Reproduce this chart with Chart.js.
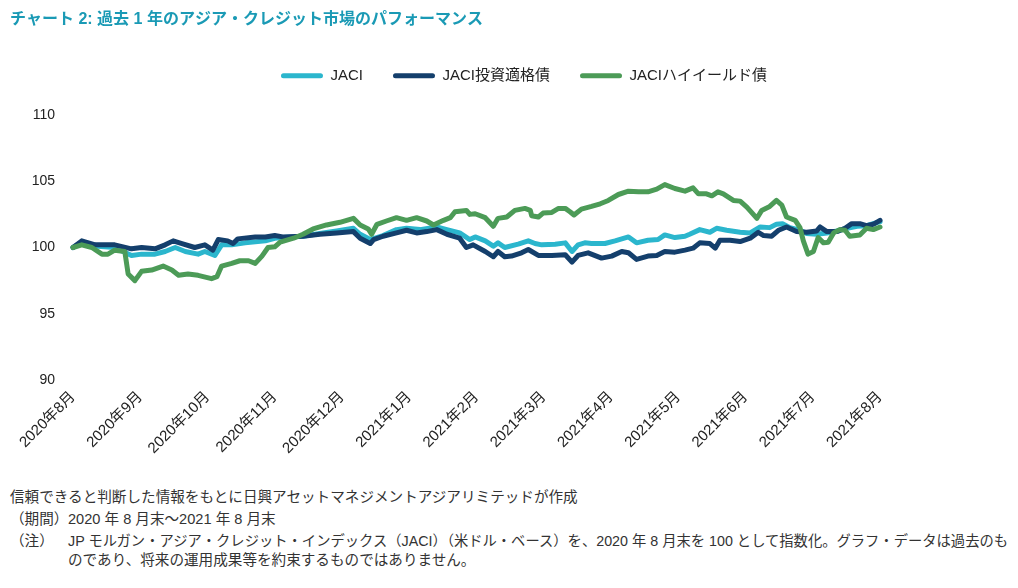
<!DOCTYPE html>
<html><head><meta charset="utf-8">
<script src="https://cdn.jsdelivr.net/npm/chart.js@4"></script>
<style>
body{margin:0;background:#fff;}
#wrap{position:relative;width:1018px;height:588px;overflow:hidden;}
canvas{position:absolute;left:0;top:0;}
.fn{position:absolute;font-family:'Liberation Sans','Noto Sans CJK JP',sans-serif;font-size:14.6px;line-height:18px;color:#333;white-space:nowrap;}
</style></head>
<body><div id="wrap">
<canvas id="c" width="1018" height="470"></canvas>
<div class="fn" style="left:10px;top:488px;">信頼できると判断した情報をもとに日興アセットマネジメントアジアリミテッドが作成</div>
<div class="fn" style="left:10px;top:510px;">（期間）</div>
<div class="fn" style="left:68px;top:510px;">2020 年 8 月末～2021 年 8 月末</div>
<div class="fn" style="left:10px;top:532px;">（注）</div>
<div class="fn" style="left:68px;top:532px;font-size:14.3px;">JP モルガン・アジア・クレジット・インデックス（JACI）（米ドル・ベース）を、2020 年 8 月末を 100 として指数化。グラフ・データは過去のも</div>
<div class="fn" style="left:68px;top:551px;">のであり、将来の運用成果等を約束するものではありません。</div>
</div>
<script>
const monthLabels = ['2020年8月','2020年9月','2020年10月','2020年11月','2020年12月','2021年1月','2021年2月','2021年3月','2021年4月','2021年5月','2021年6月','2021年7月','2021年8月'];
const seriesNames = ['JACI','JACI投資適格債','JACIハイイールド債'];

const jaciX = [0,0.13,0.37,0.62,0.87,1.02,1.22,1.37,1.52,1.67,1.86,1.96,2.11,2.21,2.36,2.56,2.86,3.00,3.12,3.42,3.67,3.92,4.17,4.27,4.42,4.61,4.81,4.96,5.16,5.41,5.56,5.75,5.90,5.98,6.13,6.25,6.32,6.42,6.62,6.77,6.87,6.97,7.17,7.32,7.42,7.51,7.61,7.71,7.91,8.06,8.26,8.38,8.55,8.70,8.80,8.95,9.10,9.17,9.32,9.47,9.57,9.72,9.92,10.07,10.22,10.36,10.46,10.55,10.66,10.81,10.91,11.06,11.21,11.36,11.51,11.66,11.80,12.0];
const jaciY = [100.0,100.4,100.1,100.0,99.4,99.5,99.5,99.7,100.0,99.7,99.5,99.7,99.4,100.2,100.2,100.35,100.5,100.7,100.75,100.85,101.05,101.25,101.45,101.0,100.6,100.9,101.35,101.45,101.35,101.55,101.35,101.1,100.6,100.8,100.5,100.1,100.35,100.0,100.25,100.5,100.3,100.2,100.25,100.35,99.7,100.2,100.35,100.3,100.3,100.5,100.8,100.35,100.55,100.6,100.95,100.75,100.85,101.0,101.35,101.15,101.45,101.3,101.15,101.1,101.55,101.5,101.75,101.8,101.5,101.3,101.05,101.0,101.1,101.25,101.45,101.6,101.65,101.95];

const igX = [0,0.13,0.33,0.62,0.87,1.02,1.22,1.37,1.49,1.62,1.81,1.96,2.08,2.16,2.30,2.38,2.45,2.71,2.86,3.00,3.12,3.42,3.67,3.92,4.17,4.27,4.42,4.47,4.61,4.81,4.96,5.11,5.26,5.41,5.56,5.75,5.85,5.95,6.13,6.25,6.32,6.42,6.52,6.67,6.77,6.92,7.12,7.32,7.42,7.51,7.66,7.86,8.01,8.16,8.26,8.38,8.55,8.68,8.80,8.95,9.10,9.22,9.32,9.47,9.55,9.62,9.77,9.92,10.07,10.19,10.27,10.39,10.49,10.61,10.76,10.91,11.06,11.11,11.21,11.36,11.48,11.58,11.70,11.80,11.90,12.0];
const igY = [100.0,100.5,100.2,100.2,99.9,100.0,99.9,100.2,100.5,100.3,100.0,100.2,99.8,100.6,100.5,100.3,100.65,100.8,100.8,100.9,100.8,100.85,101.0,101.1,101.2,100.7,100.3,100.6,100.85,101.1,101.3,101.1,101.2,101.35,101.0,100.7,100.0,100.2,99.7,99.3,99.7,99.3,99.35,99.6,99.85,99.4,99.4,99.45,98.9,99.4,99.6,99.2,99.35,99.7,99.6,99.1,99.35,99.4,99.7,99.65,99.8,99.95,100.35,100.3,99.95,100.55,100.55,100.45,100.7,101.15,100.9,100.85,101.3,101.55,101.2,101.15,101.25,101.55,101.2,101.2,101.45,101.8,101.8,101.65,101.75,102.05];

const hyX = [0,0.13,0.28,0.43,0.52,0.62,0.77,0.82,0.92,1.02,1.17,1.34,1.47,1.57,1.71,1.86,2.06,2.14,2.21,2.36,2.48,2.61,2.71,2.81,2.90,3.00,3.08,3.28,3.42,3.57,3.77,3.97,4.17,4.27,4.39,4.44,4.52,4.66,4.81,4.96,5.11,5.26,5.36,5.51,5.61,5.68,5.85,5.90,5.98,6.13,6.25,6.32,6.45,6.57,6.72,6.80,6.82,6.92,6.99,7.12,7.22,7.32,7.39,7.45,7.56,7.71,7.84,7.96,8.11,8.26,8.41,8.55,8.68,8.80,8.95,9.10,9.22,9.30,9.42,9.50,9.59,9.67,9.82,9.92,10.02,10.17,10.24,10.36,10.46,10.54,10.61,10.74,10.81,10.86,10.93,11.01,11.08,11.16,11.23,11.31,11.40,11.48,11.55,11.70,11.80,11.90,12.0];
const hyY = [100.0,100.2,100.0,99.5,99.5,99.8,99.7,98.0,97.5,98.2,98.3,98.6,98.3,97.9,98.0,97.9,97.65,97.8,98.6,98.8,99.0,99.0,98.8,99.35,100.0,100.05,100.4,100.7,101.0,101.4,101.7,101.9,102.2,101.7,101.4,101.0,101.75,102.0,102.25,102.05,102.25,102.0,101.7,102.05,102.25,102.7,102.8,102.5,102.55,102.25,101.6,102.2,102.3,102.8,102.95,102.8,102.4,102.3,102.6,102.65,102.95,102.95,102.7,102.45,102.9,103.1,103.3,103.55,104.0,104.25,104.2,104.2,104.4,104.75,104.45,104.25,104.5,104.05,104.05,103.9,104.2,104.05,103.55,103.5,103.05,102.2,102.8,103.1,103.55,103.2,102.3,102.05,101.5,100.5,99.5,99.7,100.75,100.35,100.4,101.1,101.35,101.3,100.85,100.95,101.45,101.35,101.55];

const colors = ['#2BB6CD','#143F6C','#4C9B57'];
const FONT = "'Liberation Sans','Noto Sans CJK JP',sans-serif";
const toPts = (xs, ys) => xs.map((x, i) => ({x: x, y: ys[i]}));

const TITLE_BOTTOM = 16*1.2 + 10 + 9;
const CHART_TOP = 115, CHART_BOTTOM = 380, CHART_LEFT = 73, CHART_RIGHT = 880;
const LEGEND_SHIFT = 79;

const layoutFix = {
  id: 'layoutFix',
  beforeLayout(chart) {
    const lg = chart.legend;
    if (lg && !lg._patched) {
      const f = lg.fit;
      lg.fit = function () { f.call(this); this.height = CHART_TOP - TITLE_BOTTOM; };
      lg._patched = true;
    }
  },
  afterLayout(chart) {
    const lg = chart.legend;
    if (lg) { lg.left += LEGEND_SHIFT; lg.right += LEGEND_SHIFT; }
  }
};

function ds(i, xs, ys, order) {
  return {
    label: seriesNames[i], data: toPts(xs, ys),
    borderColor: colors[i], backgroundColor: colors[i],
    borderWidth: 5, pointRadius: 0, pointHoverRadius: 0, tension: 0,
    borderJoinStyle: 'round', borderCapStyle: 'round', clip: false, order: order
  };
}

new Chart(document.getElementById('c'), {
  type: 'line',
  data: { datasets: [ds(0, jaciX, jaciY, 3), ds(1, igX, igY, 2), ds(2, hyX, hyY, 1)] },
  options: {
    responsive: false, animation: false,
    layout: { padding: { left: 10, right: 1018 - CHART_RIGHT, top: 0, bottom: 0 } },
    plugins: {
      title: { display: true, text: 'チャート 2: 過去 1 年のアジア・クレジット市場のパフォーマンス', align: 'start',
        color: '#1A9AB5', font: { family: FONT, size: 16, weight: 'bold' }, padding: { top: 10, bottom: 9 } },
      legend: { display: true, position: 'top',
        labels: { color: '#222', font: { family: FONT, size: 15 }, boxWidth: 42, boxHeight: 5, padding: 30,
          useBorderRadius: true, borderRadius: 2.5,
          sort: (a, b) => a.datasetIndex - b.datasetIndex,
          generateLabels(chart) {
            const items = Chart.defaults.plugins.legend.labels.generateLabels(chart);
            items.forEach(it => { it.lineWidth = 0; it.fillStyle = colors[it.datasetIndex]; });
            return items;
          } } },
      tooltip: { enabled: false }
    },
    scales: {
      x: { type: 'linear', min: 0, max: 12,
        grid: { display: false, drawTicks: false }, border: { display: false },
        ticks: { stepSize: 1, autoSkip: false, maxRotation: 45, minRotation: 45, padding: 8,
          color: '#222', font: { family: FONT, size: 15 },
          callback: v => monthLabels[v] },
        afterFit: s => { s.height = 470 - CHART_BOTTOM; } },
      y: { min: 90, max: 110,
        grid: { display: false, drawTicks: false }, border: { display: false },
        ticks: { stepSize: 5, padding: 18, color: '#222', font: { family: FONT, size: 14 } },
        afterFit: s => { s.width = CHART_LEFT - 10; } }
    }
  },
  plugins: [layoutFix]
});
</script></body></html>
